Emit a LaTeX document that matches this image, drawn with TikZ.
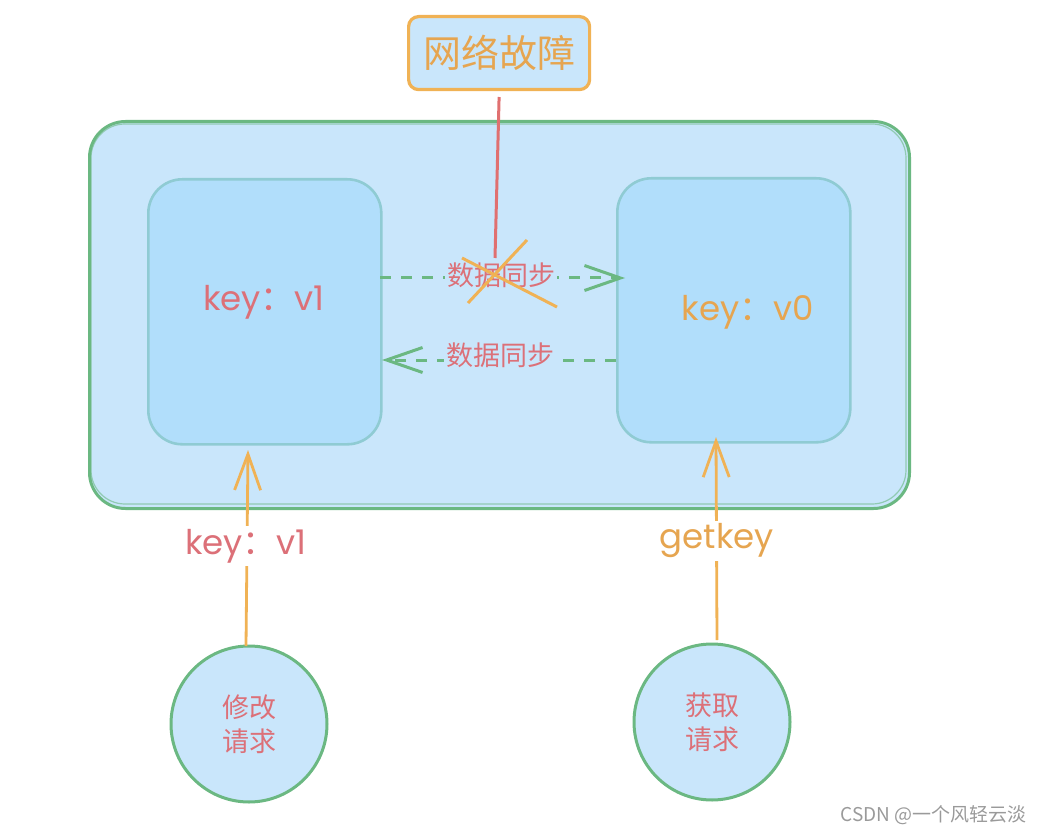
\documentclass[tikz,border=0pt]{standalone}
\usepackage{fontspec}
\setmainfont{Noto Sans CJK SC}
\newfontfamily\cjk{Noto Sans CJK SC}
\newfontfamily\hand{Poppins}
\usetikzlibrary{arrows.meta}
\definecolor{boxfill}{HTML}{C9E6FB}
\definecolor{innerfill}{HTML}{B1DEFB}
\definecolor{gborder}{HTML}{6BB882}
\definecolor{tborder}{HTML}{8FCBD3}
\definecolor{oborder}{HTML}{F0B255}
\definecolor{otext}{HTML}{E6A550}
\definecolor{rtext}{HTML}{DC7078}
\definecolor{rline}{HTML}{E07070}
\definecolor{wm}{HTML}{9A9A9A}
\newcommand{\kv}[1]{{\hand key}{\cjk ：}{\hand #1}}
\tikzset{
  outerbox/.style={draw=gborder, fill=boxfill, line width=3pt, rounded corners=36pt},
  innerbox/.style={draw=tborder, fill=innerfill, line width=2.6pt, rounded corners=34pt},
  topbox/.style={draw=oborder, fill=boxfill, line width=3.2pt, rounded corners=10pt},
  circ/.style={draw=gborder, fill=boxfill, line width=3pt, circle},
  sync/.style={draw=gborder, line width=3pt, dash pattern=on 11pt off 10pt, -{Straight Barb[length=36pt,width=25pt,line width=3pt]}},
  req/.style={draw=oborder, line width=2.8pt, -{Straight Barb[length=36pt,width=26pt,line width=2.8pt]}},
  lbl/.style={font=\cjk\fontsize{27}{30}\selectfont, text=rtext, fill=boxfill, inner sep=2pt},
  keytxt/.style={font=\hand\fontsize{34}{36}\selectfont},
}
\begin{document}
\begin{tikzpicture}[x=1pt,y=-1pt]
\useasboundingbox (0,0) rectangle (1044,834);
% outer box
\node[outerbox, minimum width=820pt, minimum height=387pt, anchor=north west] (outer) at (88,120) {};
\draw[gborder, line width=1.2pt, rounded corners=34pt, opacity=0.6] (91,124) rectangle (906,504);
% inner boxes
\node[innerbox, minimum width=233pt, minimum height=265pt, anchor=north west] (left) at (147,178) {};
\node[innerbox, minimum width=233pt, minimum height=264pt, anchor=north west] (right) at (616,177) {};
\node[keytxt, text=rtext] (lk) at (264,302) {\kv{v1}};
\node[keytxt, text=otext] (rk) at (748,312) {\kv{v0}};
% top box
\node[topbox, minimum width=181pt, minimum height=73pt, anchor=north west] (fault) at (407,15) {};
\node[font=\cjk\fontsize{38}{42}\selectfont, text=otext] (faultt) at (fault.center) {网络故障};
% sync arrows
\coordinate (s1a) at (380,278);
\coordinate (s1b) at (625,278);
\draw[sync] (s1a) -- (s1b);
\node[lbl] (l1) at (501,275) {数据同步};
\coordinate (s2a) at (616,360);
\coordinate (s2b) at (382,360);
\draw[sync] (s2a) -- (s2b);
\node[lbl] (l2) at (500,355) {数据同步};
% fault line and cross
\coordinate (fl) at (495,258);
\draw[rline, line width=3pt] (fault.south |- 0,97) -- (fl);
\coordinate (x1a) at (462,258);
\coordinate (x1b) at (557,307);
\coordinate (x2a) at (527,240);
\coordinate (x2b) at (468,303);
\draw[oborder, line width=3pt] (x1a) -- (x1b);
\draw[oborder, line width=3pt] (x2a) -- (x2b);
% circles
\node[circ, minimum size=156pt] (c1) at (249,724) {};
\node[circ, minimum size=156pt] (c2) at (712,722) {};
\node[font=\cjk\fontsize{27}{34}\selectfont, text=rtext, align=center] (c1t) at (c1.center) {修改\\请求};
\node[font=\cjk\fontsize{27}{34}\selectfont, text=rtext, align=center] (c2t) at (c2.center) {获取\\请求};
% request arrows
\coordinate (r1a) at (246,646);
\coordinate (r1b) at (248,450);
\draw[req] (r1a) -- (r1b);
\node[keytxt, text=rtext, fill=white, inner sep=3pt] (r1l) at (246,546) {\kv{v1}};
\coordinate (r2a) at (717,640);
\coordinate (r2b) at (716,437);
\draw[req] (r2a) -- (r2b);
\node[keytxt, text=otext, fill=white, inner sep=3pt] (r2l) at (717,541) {getkey};
% watermark
\node[font=\cjk\fontsize{19}{21}\selectfont, text=wm, anchor=east] (wmk) at (1030,815) {CSDN @一个风轻云淡};
\end{tikzpicture}
\end{document}
